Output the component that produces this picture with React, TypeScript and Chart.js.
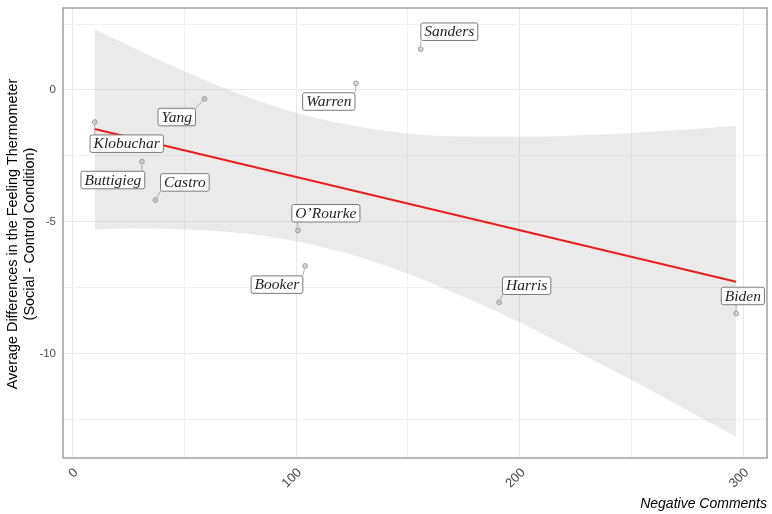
import React, { useEffect, useRef } from "react";
import { Chart, registerables } from "chart.js";

Chart.register(...registerables);

// ---- data ----
const candidates = ["Klobuchar", "Yang", "Buttigieg", "Castro", "Warren", "Sanders", "O’Rourke", "Booker", "Harris", "Biden"];
const negativeComments = [9.9, 59, 31, 37, 126.8, 155.7, 100.8, 104, 190.8, 296.8];
const thermometerDiff = [-1.22, -0.34, -2.72, -4.18, 0.25, 1.55, -5.33, -6.68, -8.06, -8.49];
// label box centres (data units, as placed by the repel layout)
const labelX = [24.2, 46.6, 18.0, 50.2, 114.6, 168.5, 113.3, 91.4, 203.1, 299.8];
const labelY = [-2.04, -1.03, -3.42, -3.51, -0.44, 2.21, -4.68, -7.39, -7.43, -7.82];

// fitted regression line
const fitX = [9.9, 296.8];
const fitY = [-1.48, -7.28];

// confidence band edges
const bandX = [9.9, 25, 50, 75, 100, 125, 150, 175, 200, 225, 250, 275, 296.8];
const bandUpper = [2.3, 1.69, 0.71, -0.16, -0.87, -1.35, -1.66, -1.77, -1.78, -1.73, -1.63, -1.5, -1.36];
const bandLower = [-5.3, -5.25, -5.29, -5.43, -5.74, -6.26, -6.98, -7.86, -8.82, -9.91, -11.01, -12.16, -13.17];

const xTicks = [0, 100, 200, 300];
const xMinorTicks = [50, 150, 250];
const yTicks = [0, -5, -10];
const yMinorTicks = [2.5, -2.5, -7.5, -12.5];

const xTitle = "Negative Comments";
const yTitle = ["Average Differences in the Feeling Thermometer", "(Social - Control Condition)"];

const SANS = "'Liberation Sans', Arial, sans-serif";
const SERIF = "'Liberation Serif', 'Times New Roman', serif";

const textPlugin = {
  id: "customText",
  afterDatasetsDraw(chart: any) {
    const ctx = chart.ctx as CanvasRenderingContext2D;
    const xs = chart.scales.x;
    const ys = chart.scales.y;
    const area = chart.chartArea;

    // repel-style labels with segments
    ctx.save();
    ctx.font = `italic 15.5px ${SERIF}`;
    for (let i = 0; i < candidates.length; i++) {
      const px = xs.getPixelForValue(negativeComments[i]);
      const py = ys.getPixelForValue(thermometerDiff[i]);
      const cx = xs.getPixelForValue(labelX[i]);
      const cy = ys.getPixelForValue(labelY[i]);
      const tw = ctx.measureText(candidates[i]).width;
      const w = tw + 7;
      const h = 17.5;
      const bx = cx - w / 2;
      const by = cy - h / 2;
      // segment
      const nx = Math.min(Math.max(px, bx), bx + w);
      const ny = Math.min(Math.max(py, by), by + h);
      const d = Math.hypot(nx - px, ny - py);
      if (d > 4) {
        const r = 3;
        ctx.beginPath();
        ctx.moveTo(px + ((nx - px) / d) * r, py + ((ny - py) / d) * r);
        ctx.lineTo(nx, ny);
        ctx.strokeStyle = "#9a9a9a";
        ctx.lineWidth = 0.8;
        ctx.stroke();
      }
      // box
      ctx.beginPath();
      ctx.roundRect(bx, by, w, h, 2);
      ctx.fillStyle = "#ffffff";
      ctx.fill();
      ctx.strokeStyle = "#7a7a7a";
      ctx.lineWidth = 1;
      ctx.stroke();
      ctx.fillStyle = "#1f1f1f";
      ctx.textAlign = "center";
      ctx.textBaseline = "middle";
      ctx.fillText(candidates[i], cx, cy + 0.5);
    }
    ctx.restore();

    // panel border
    ctx.save();
    ctx.strokeStyle = "#999999";
    ctx.lineWidth = 1.4;
    ctx.strokeRect(area.left, area.top, area.right - area.left, area.bottom - area.top);
    ctx.restore();

    // y tick labels
    ctx.save();
    ctx.font = `11.5px ${SANS}`;
    ctx.fillStyle = "#4d4d4d";
    ctx.textAlign = "right";
    ctx.textBaseline = "middle";
    yTicks.forEach((v) => {
      ctx.fillText(String(v), area.left - 7, ys.getPixelForValue(v));
    });
    ctx.restore();

    // x tick labels (rotated 45)
    ctx.save();
    ctx.font = `13px ${SANS}`;
    ctx.fillStyle = "#4a4a4a";
    ctx.textAlign = "right";
    ctx.textBaseline = "middle";
    xTicks.forEach((v) => {
      const x = xs.getPixelForValue(v) + 3.5;
      const y = area.bottom + 12.5;
      ctx.save();
      ctx.translate(x, y);
      ctx.rotate(-Math.PI / 4);
      ctx.fillText(String(v), 0, 0);
      ctx.restore();
    });
    ctx.restore();

    // x title
    ctx.save();
    ctx.font = `italic 14px ${SANS}`;
    ctx.fillStyle = "#000000";
    ctx.textAlign = "right";
    ctx.textBaseline = "alphabetic";
    ctx.fillText(xTitle, area.right, 508);
    ctx.restore();

    // y title (two lines)
    ctx.save();
    ctx.font = `14.4px ${SANS}`;
    ctx.fillStyle = "#000000";
    ctx.textAlign = "center";
    ctx.textBaseline = "middle";
    const midY = (area.top + area.bottom) / 2 + 1;
    [13.5, 30].forEach((lx, k) => {
      ctx.save();
      ctx.translate(lx, midY);
      ctx.rotate(-Math.PI / 2);
      ctx.fillText(yTitle[k], 0, 0);
      ctx.restore();
    });
    ctx.restore();
  },
};

export default function App() {
  const canvasRef = useRef<HTMLCanvasElement | null>(null);

  useEffect(() => {
    if (!canvasRef.current) return;
    const toPts = (xsArr: number[], ysArr: number[]) => xsArr.map((x, i) => ({ x, y: ysArr[i] }));
    const chart = new Chart(canvasRef.current, {
      type: "scatter",
      data: {
        datasets: [
          {
            label: "lower",
            data: toPts(bandX, bandLower),
            showLine: true,
            borderColor: "rgba(0,0,0,0)",
            pointRadius: 0,
            fill: false,
            cubicInterpolationMode: "monotone",
          } as any,
          {
            label: "upper",
            data: toPts(bandX, bandUpper),
            showLine: true,
            borderColor: "rgba(0,0,0,0)",
            backgroundColor: "rgba(150,150,150,0.2)",
            pointRadius: 0,
            fill: "-1",
            cubicInterpolationMode: "monotone",
          } as any,
          {
            label: "fit",
            data: toPts(fitX, fitY),
            showLine: true,
            borderColor: "#ff0000",
            borderWidth: 2,
            pointRadius: 0,
            fill: false,
          } as any,
          {
            label: "candidates",
            data: toPts(negativeComments, thermometerDiff),
            pointRadius: 2.4,
            borderWidth: 1,
            borderColor: "#9e9e9e",
            backgroundColor: "#d6d6d6",
          } as any,
        ],
      },
      options: {
        animation: false,
        responsive: false,
        events: [],
        layout: { padding: { left: 0, right: 2, top: 8, bottom: 0 } },
        plugins: {
          legend: { display: false },
          tooltip: { enabled: false },
          title: { display: false },
        },
        scales: {
          x: {
            type: "linear",
            min: -4.3,
            max: 310.6,
            afterBuildTicks: (scale: any) => {
              scale.ticks = [...xTicks, ...xMinorTicks].sort((a, b) => a - b).map((v) => ({ value: v }));
            },
            afterFit: (scale: any) => {
              scale.height = 56;
            },
            ticks: { display: false },
            border: { display: false },
            grid: {
              drawTicks: false,
              color: (c: any) => (c.tick && xTicks.includes(c.tick.value) ? "#e9e9e9" : "#f1f1f1"),
              lineWidth: 1,
            },
          },
          y: {
            type: "linear",
            min: -13.97,
            max: 3.11,
            afterBuildTicks: (scale: any) => {
              scale.ticks = [...yTicks, ...yMinorTicks].sort((a, b) => a - b).map((v) => ({ value: v }));
            },
            afterFit: (scale: any) => {
              scale.width = 63;
            },
            ticks: { display: false },
            border: { display: false },
            grid: {
              drawTicks: false,
              color: (c: any) => (c.tick && yTicks.includes(c.tick.value) ? "#e9e9e9" : "#f1f1f1"),
              lineWidth: 1,
            },
          },
        },
      },
      plugins: [textPlugin],
    } as any);
    return () => chart.destroy();
  }, []);

  return (
    <div style={{ position: "absolute", left: 0, top: 0, width: 772, height: 514, background: "#ffffff" }}>
      <canvas ref={canvasRef} width={772} height={514} style={{ width: 772, height: 514, display: "block" }} />
    </div>
  );
}
